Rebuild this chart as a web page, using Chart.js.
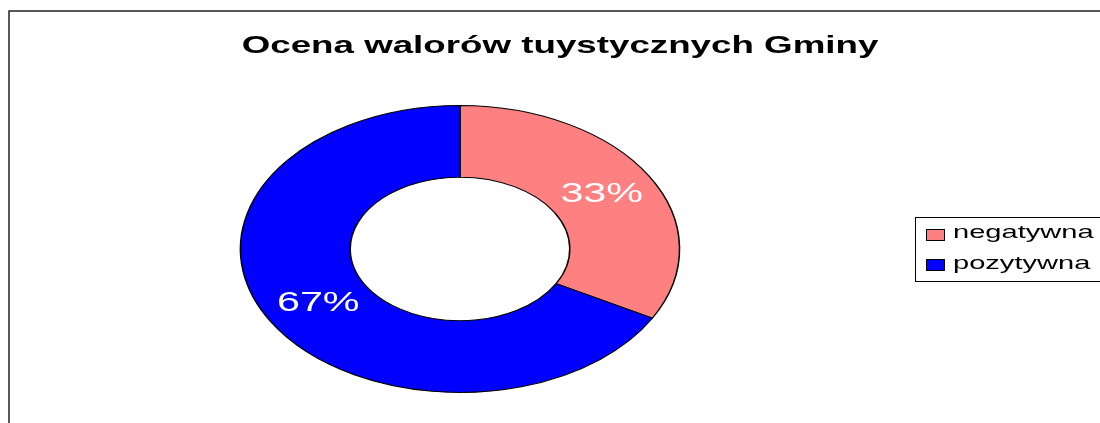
<!DOCTYPE html>
<html>
<head>
<meta charset="utf-8">
<script src="https://cdn.jsdelivr.net/npm/chart.js@4/dist/chart.umd.min.js"></script>
<style>
html, body { margin: 0; padding: 0; background: #fff; }
#wrap { width: 1100px; height: 423px; }
</style>
</head>
<body>
<div id="wrap"><canvas id="ocena" width="1100" height="423"></canvas></div>
<script>
var chartTitle = 'Ocena walorów tuystycznych Gminy';
var labels = ['negatywna', 'pozytywna'];
var values = [33, 67];
var colors = ['#FF8080', '#0000FF'];

// the original picture is stretched sideways, so everything is drawn narrow and scaled in x
var SX = 1.53;
var FONT = '"Liberation Sans", Arial, sans-serif';

function lx(px) { return px / SX; }

var stretchPlugin = {
    id: 'stretch',
    beforeDraw: function(chart) {
        var ctx = chart.ctx;
        ctx.save();
        ctx.fillStyle = '#fff';
        ctx.fillRect(0, 0, chart.width, chart.height);
        ctx.scale(SX, 1);
    },
    afterDatasetsDraw: function(chart) {
        var ctx = chart.ctx;
        var meta = chart.getDatasetMeta(0);
        var total = values.reduce(function(a, b) { return a + b; }, 0);
        ctx.save();
        ctx.fillStyle = '#fff';
        ctx.font = '27px ' + FONT;
        ctx.textAlign = 'center';
        ctx.textBaseline = 'middle';
        meta.data.forEach(function(arc, i) {
            var p = arc.getProps(['x', 'y', 'startAngle', 'endAngle', 'innerRadius', 'outerRadius']);
            var a = (p.startAngle + p.endAngle) / 2;
            var r = (p.innerRadius + p.outerRadius) / 2;
            var txt = Math.round(values[i] / total * 100) + '%';
            ctx.fillText(txt, p.x + r * Math.cos(a), p.y + r * Math.sin(a));
        });
        ctx.restore();
    },
    afterDraw: function(chart) {
        var ctx = chart.ctx;
        // title
        ctx.fillStyle = '#000';
        ctx.font = 'bold 24px ' + FONT;
        ctx.textAlign = 'center';
        ctx.textBaseline = 'alphabetic';
        ctx.fillText(chartTitle, lx(560), 53);
        // legend text
        ctx.font = '19px ' + FONT;
        ctx.textAlign = 'left';
        var rows = [238, 269];
        labels.forEach(function(l, i) {
            ctx.fillText(l, lx(953), rows[i]);
        });
        ctx.restore();

        // frame and legend box, in screen pixels
        ctx.save();
        ctx.strokeStyle = '#222';
        ctx.lineWidth = 1.5;
        ctx.beginPath();
        ctx.moveTo(9, 423);
        ctx.lineTo(9, 11);
        ctx.lineTo(1100, 11);
        ctx.stroke();

        ctx.lineWidth = 1;
        ctx.strokeStyle = '#000';
        ctx.strokeRect(915.5, 217.5, 200, 64);

        var swatchTop = [229, 259];
        labels.forEach(function(l, i) {
            ctx.fillStyle = colors[i];
            ctx.fillRect(926.5, swatchTop[i] + 0.5, 18, 11);
            ctx.strokeRect(926.5, swatchTop[i] + 0.5, 18, 11);
        });
        ctx.restore();
    }
};

// doughnut centre (460, 249) on screen, radius 144 high
var cx = lx(460);
var chart = new Chart(document.getElementById('ocena'), {
    type: 'doughnut',
    data: {
        labels: labels,
        datasets: [{
            data: values,
            backgroundColor: colors,
            borderColor: '#000',
            borderWidth: 1,
            hoverOffset: 0,
            offset: 0
        }]
    },
    options: {
        responsive: false,
        animation: false,
        events: [],
        cutout: '50%',
        layout: {
            padding: { left: cx - 144, right: 1100 - (cx + 144), top: 105, bottom: 30 }
        },
        plugins: {
            legend: { display: false },
            tooltip: { enabled: false },
            title: { display: false }
        }
    },
    plugins: [stretchPlugin]
});
</script>
</body>
</html>
